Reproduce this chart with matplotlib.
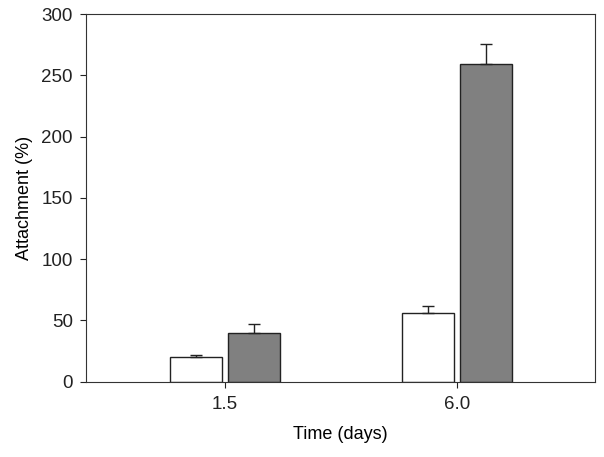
import numpy as np
import matplotlib
matplotlib.use("Agg")
import matplotlib.pyplot as plt

plt.rcParams['font.family'] = ['Liberation Sans', 'DejaVu Sans']

dias = ["1.5", "6.0"]
blanco = [20, 56]
blanco_err = [1.8, 6]
gris = [40, 259]
gris_err = [7, 17]

fig = plt.figure(figsize=(6.04, 4.57), dpi=100)
ax = fig.add_axes([0.1424, 0.165, 0.843, 0.804])

x = np.arange(len(dias))
ancho = 0.224
sep = 0.124
ax.bar(x - sep, blanco, ancho, color='white', edgecolor='#222222', linewidth=1,
       yerr=[np.zeros(2), blanco_err], capsize=4, error_kw=dict(elinewidth=1, capthick=1, ecolor='#222222'))
ax.bar(x + sep, gris, ancho, color='#808080', edgecolor='#222222', linewidth=1,
       yerr=[np.zeros(2), gris_err], capsize=4, error_kw=dict(elinewidth=1, capthick=1, ecolor='#222222'))

ax.set_xlim(-0.6, 1.597)
ax.set_ylim(0, 300)
ax.set_xticks(x)
ax.set_xticklabels(dias)
ax.set_yticks([0, 50, 100, 150, 200, 250, 300])
ax.tick_params(direction='out', length=4.5, labelsize=13.5, colors='#222222')
ax.tick_params(axis='x', pad=6)
ax.tick_params(axis='y', pad=5)
ax.set_xlabel("Time (days)", fontsize=13, labelpad=9)
ax.set_ylabel("Attachment (%)", fontsize=13, labelpad=6)
for s in ax.spines.values():
    s.set_color('#333333')

fig.savefig("out.png", dpi=100)
